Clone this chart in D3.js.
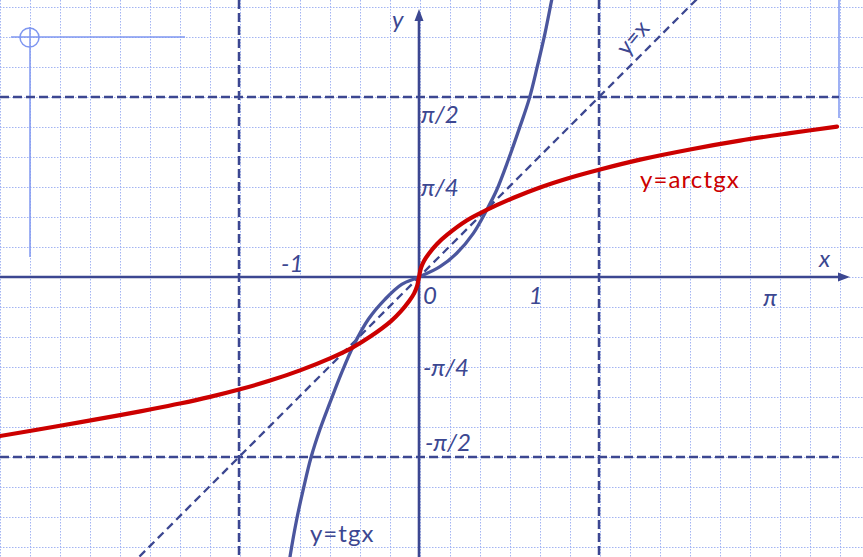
<!DOCTYPE html>
<html>
<head>
<meta charset="utf-8">
<script src="https://cdn.jsdelivr.net/npm/d3@7"></script>
<style>
  html, body { margin: 0; padding: 0; background: #fff; }
  svg { display: block; }
  text { font-family: Lato, "Noto Sans", "DejaVu Sans", sans-serif; }
</style>
</head>
<body>
<script>
// ---------- data (math units) ----------
const tanX = [-1.169, -1.126, -1.067, -1.010, -0.943, -0.864, -0.777, -0.675, -0.573, -0.442, -0.297, -0.151, 0, 0.183, 0.329, 0.474, 0.591, 0.678, 0.779, 0.881, 0.963, 1.032, 1.100, 1.158, 1.213];
const tanY = [-2.731, -2.443, -2.114, -1.853, -1.577, -1.329, -1.097, -0.835, -0.602, -0.369, -0.195, -0.064, 0, 0.090, 0.207, 0.381, 0.585, 0.759, 1.021, 1.312, 1.559, 1.835, 2.129, 2.417, 2.679];

const atanX = [-3.657, -3.133, -2.609, -2.348, -2.086, -1.824, -1.562, -1.300, -1.038, -0.777, -0.585, -0.428, -0.244, -0.157, -0.0873, -0.0436, -0.0175, 0, 0.0175, 0.0436, 0.0873, 0.157, 0.244, 0.4163, 0.5908, 0.8203, 1.056, 1.318, 1.580, 1.929, 2.365, 2.801, 3.238, 3.648];
const atanY = [-1.388, -1.298, -1.205, -1.156, -1.104, -1.046, -0.980, -0.904, -0.815, -0.710, -0.618, -0.522, -0.385, -0.298, -0.212, -0.145, -0.082, 0, 0.079, 0.140, 0.205, 0.288, 0.367, 0.493, 0.585, 0.689, 0.781, 0.866, 0.938, 1.024, 1.113, 1.190, 1.255, 1.312];

const identityX = [-2.60, 2.60];
const identityY = [-2.60, 2.60];

const asymptoteX = [-1.5708, 1.5708];   // vertical dashed lines
const asymptoteY = [-1.5708, 1.5708];   // horizontal dashed lines

const xTickValues = [-1, 0, 1, 3.1416];
const xTickTexts  = ["-1", "0", "1", "π"];
const yTickValues = [1.5708, 0.7854, -0.7854, -1.5708];
const yTickTexts  = ["π/2", "π/4", "-π/4", "-π/2"];

const curveLabels = ["y=arctgx", "y=tgx", "y=x"];
const axisNames = ["x", "y"];

// ---------- layout ----------
const W = 863, H = 557;
const ox = 419, oy = 277, unit = 180 / 1.5708;
const x = d3.scaleLinear().domain([-ox / unit, (W - ox) / unit]).range([0, W]);
const y = d3.scaleLinear().domain([-(H - oy) / unit, oy / unit]).range([H, 0]);

const svg = d3.select("body").append("svg").attr("width", W).attr("height", H);

const navy = "#3c4791";
const curveBlue = "#4b569e";
const red = "#cc0000";
const gridCol = "#a3b4f3";
const decoCol = "#7f97f0";

// grid
const gx = d3.range(0, W, 30);
const gy = d3.range(7, H, 30);
svg.append("g").selectAll("line").data(gx).join("line")
  .attr("x1", d => d + 0.5).attr("x2", d => d + 0.5).attr("y1", 0).attr("y2", H)
  .attr("stroke", gridCol).attr("stroke-width", 1).attr("stroke-dasharray", "1.5,1.5");
svg.append("g").selectAll("line").data(gy).join("line")
  .attr("y1", d => d + 0.5).attr("y2", d => d + 0.5).attr("x1", 0).attr("x2", W)
  .attr("stroke", gridCol).attr("stroke-width", 1).attr("stroke-dasharray", "1.5,1.5");

// decorative light-blue lines
const deco = svg.append("g").attr("stroke", decoCol).attr("stroke-width", 1.5).attr("fill", "none");
deco.append("line").attr("x1", 11).attr("x2", 185).attr("y1", 37).attr("y2", 37);
deco.append("line").attr("x1", 30).attr("x2", 30).attr("y1", 27).attr("y2", 257);
deco.append("circle").attr("cx", 29.5).attr("cy", 37.5).attr("r", 9.5);
deco.append("line").attr("x1", 839).attr("x2", 839).attr("y1", 0).attr("y2", 118);

// asymptote dashed lines
svg.append("g").selectAll("line").data(asymptoteX).join("line")
  .attr("x1", d => x(d)).attr("x2", d => x(d)).attr("y1", 0).attr("y2", H)
  .attr("stroke", navy).attr("stroke-width", 2.5).attr("stroke-dasharray", "9,4");
svg.append("g").selectAll("line").data(asymptoteY).join("line")
  .attr("y1", d => y(d)).attr("y2", d => y(d)).attr("x1", 0).attr("x2", 839)
  .attr("stroke", navy).attr("stroke-width", 2.5).attr("stroke-dasharray", "9,4");

// axes
svg.append("line").attr("x1", 0).attr("x2", 842).attr("y1", y(0)).attr("y2", y(0))
  .attr("stroke", navy).attr("stroke-width", 2.6);
svg.append("path").attr("d", `M850,${y(0)} L838,${y(0) - 4.5} L838,${y(0) + 4.5} Z`).attr("fill", navy);
svg.append("line").attr("x1", x(0)).attr("x2", x(0)).attr("y1", H).attr("y2", 18)
  .attr("stroke", navy).attr("stroke-width", 2.6);
svg.append("path").attr("d", `M${x(0)},9 L${x(0) - 4.5},21 L${x(0) + 4.5},21 Z`).attr("fill", navy);

// y = x
const line = d3.line().x(d => x(d[0])).y(d => y(d[1]));
svg.append("path").datum(d3.zip(identityX, identityY))
  .attr("d", line).attr("fill", "none").attr("stroke", navy)
  .attr("stroke-width", 2.3).attr("stroke-dasharray", "8,5");

// curves
const smooth = d3.line().x(d => x(d[0])).y(d => y(d[1])).curve(d3.curveCatmullRom.alpha(0.5));
svg.append("path").datum(d3.zip(tanX, tanY))
  .attr("d", smooth).attr("fill", "none").attr("stroke", curveBlue).attr("stroke-width", 3.3);
svg.append("path").datum(d3.zip(atanX, atanY))
  .attr("d", smooth).attr("fill", "none").attr("stroke", red).attr("stroke-width", 4.2)
  .attr("stroke-linecap", "round");

// tick labels
const xLab = [
  {anchor: "end", dx: -1, y: 272},
  {anchor: "start", dx: 4, y: 304},
  {anchor: "middle", dx: 2, y: 304},
  {anchor: "end", dx: -2, y: 306}
];
svg.append("g").selectAll("text").data(xTickValues).join("text")
  .attr("x", (d, i) => x(d) + xLab[i].dx).attr("y", (d, i) => xLab[i].y)
  .attr("text-anchor", (d, i) => xLab[i].anchor)
  .attr("font-style", "italic").attr("font-size", 24).attr("fill", navy)
  .text((d, i) => xTickTexts[i]);

const yLab = [ {dx: 2, dy: 26}, {dx: 2, dy: 9}, {dx: 4, dy: 9}, {dx: 6, dy: -6} ];
svg.append("g").selectAll("text").data(yTickValues).join("text")
  .attr("x", (d, i) => x(0) + yLab[i].dx).attr("y", (d, i) => y(d) + yLab[i].dy)
  .attr("font-style", "italic").attr("font-size", 24).attr("fill", navy)
  .text((d, i) => yTickTexts[i]);

// axis names
svg.append("text").attr("x", 819).attr("y", 267).attr("font-style", "italic")
  .attr("font-size", 24).attr("fill", navy).text(axisNames[0]);
svg.append("text").attr("x", 392).attr("y", 28).attr("font-style", "italic")
  .attr("font-size", 24).attr("fill", navy).text(axisNames[1]);

// curve labels
svg.append("text").attr("x", 640).attr("y", 188).attr("font-size", 24)
  .attr("fill", red).attr("letter-spacing", 1.1).text(curveLabels[0]);
svg.append("text").attr("x", 310).attr("y", 542).attr("font-size", 24)
  .attr("fill", navy).attr("letter-spacing", 1).text(curveLabels[1]);
svg.append("text").attr("transform", "translate(627,57) rotate(-50)").attr("font-size", 23)
  .attr("fill", navy).text(curveLabels[2]);
</script>
</body>
</html>
